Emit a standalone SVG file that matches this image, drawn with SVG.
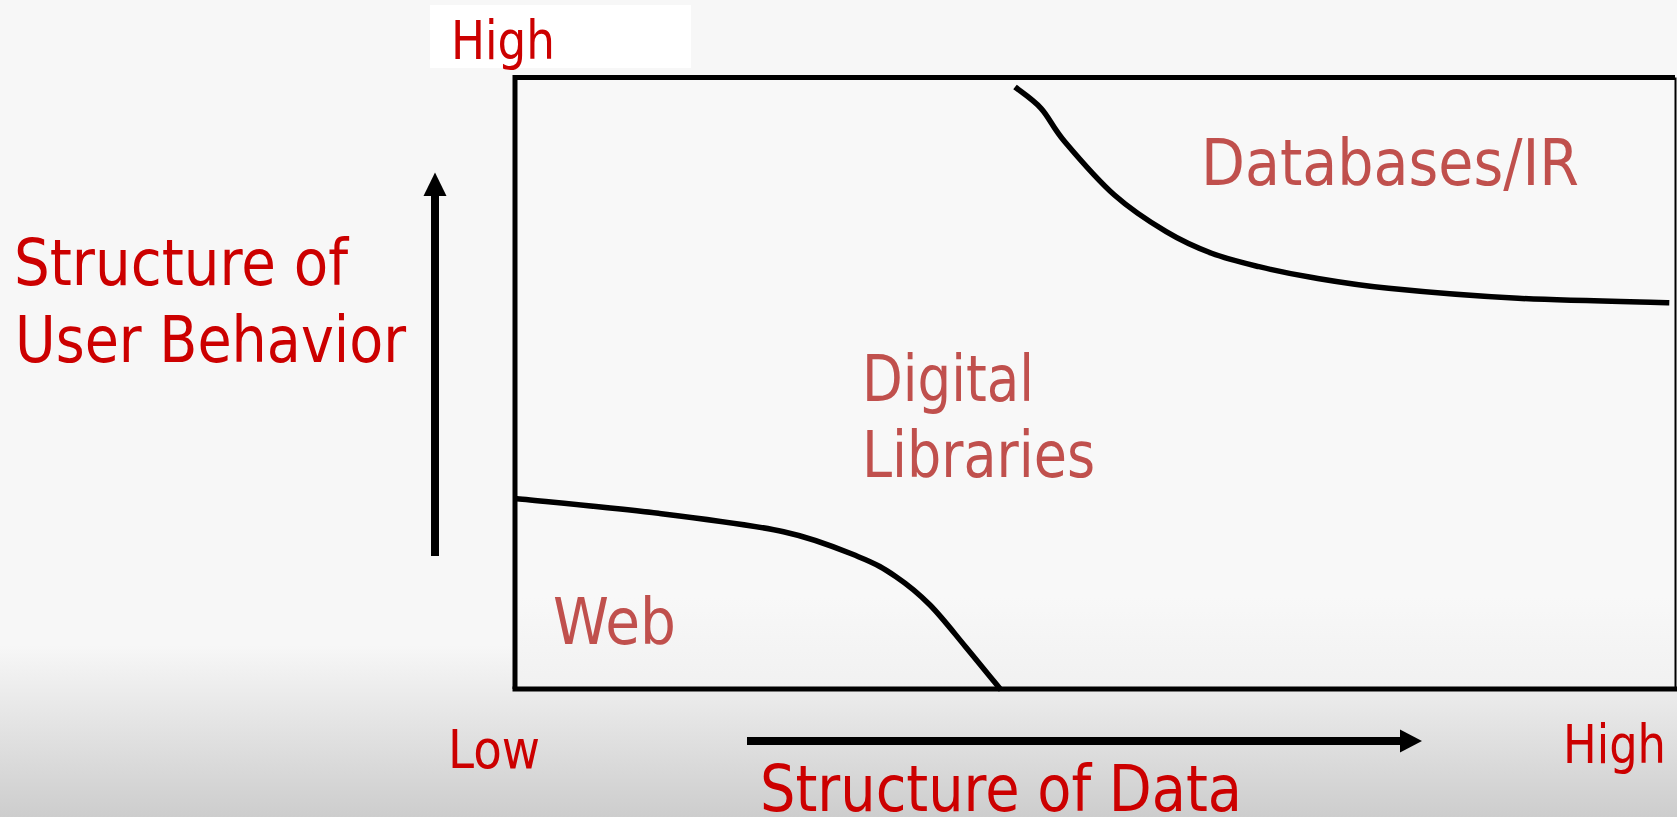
<svg xmlns="http://www.w3.org/2000/svg" width="1677" height="817" viewBox="0 0 1677 817">
  <defs>
    <linearGradient id="bg" x1="0" y1="0" x2="0" y2="1">
      <stop offset="0" stop-color="#f7f7f7"/>
      <stop offset="0.79" stop-color="#f7f7f7"/>
      <stop offset="1" stop-color="#cdcdcd"/>
    </linearGradient>
    <linearGradient id="boxfill" x1="0" y1="0" x2="0" y2="1">
      <stop offset="0" stop-color="#f8f8f8"/>
      <stop offset="0.85" stop-color="#f8f8f8"/>
      <stop offset="1" stop-color="#f1f1f1"/>
    </linearGradient>
  </defs>
  <style>
    .t { font-family: "DejaVu Sans Condensed", "DejaVu Sans", Tahoma, sans-serif; }
    .axis { fill: #cc0000; }
    .region { fill: #c0504d; }
    .big { font-size: 64px; }
    .small { font-size: 53.5px; }
    .curve { fill: none; stroke: #000; stroke-width: 5.5; stroke-linejoin: round; stroke-linecap: butt; }
    .arrowline { stroke: #000; stroke-width: 8; }
  </style>
  <rect x="0" y="0" width="1677" height="817" fill="url(#bg)"/>

  <g id="chart-box">
    <rect x="515" y="77.5" width="1160" height="611" fill="url(#boxfill)"/>
    <path d="M515 689 V77.5 H1675" fill="none" stroke="#000" stroke-width="5"/>
    <line x1="512.5" y1="689" x2="1677" y2="689" stroke="#000" stroke-width="5"/>
    <line x1="1675.5" y1="77.5" x2="1675.5" y2="689" stroke="#000" stroke-width="2"/>
  </g>

  <g id="connectors">
    <path id="web-boundary" class="curve" d="M515,498.5 C538.9,501 613.75,507.8 658.5,513.3 C703.25,518.8 750.2,524.5 783.5,531.7 C816.8,538.9 839.65,549.2 858.4,556.7 C877.15,564.2 884.07,568.65 896,576.7 C907.93,584.75 918.42,593.33 930,605 C941.58,616.67 953.67,632.53 965.5,646.7 C977.33,660.87 995.08,682.78 1001,690"/>
    <path id="db-boundary" class="curve" d="M1015,87 C1019.33,90.55 1032.7,99.18 1041,108.3 C1049.3,117.42 1052.57,127.25 1064.8,141.7 C1077.03,156.15 1097.5,180 1114.4,195 C1131.3,210 1150,221.98 1166.2,231.7 C1182.4,241.42 1196.13,247.47 1211.6,253.3 C1227.07,259.13 1242.45,262.7 1259,266.7 C1275.55,270.7 1289.3,273.7 1310.9,277.3 C1332.5,280.9 1354.08,284.8 1388.6,288.3 C1423.12,291.8 1471.22,295.9 1518,298.3 C1564.78,300.7 1644.08,301.97 1669.3,302.7"/>
    <g id="y-axis-arrow">
      <line class="arrowline" x1="435" y1="556" x2="435" y2="194"/>
      <polygon points="423.5,196 446.5,196 435,172.5" fill="#000"/>
    </g>
    <g id="x-axis-arrow">
      <line class="arrowline" x1="747" y1="741" x2="1402" y2="741"/>
      <polygon points="1400,729.5 1400,752.5 1422,741" fill="#000"/>
    </g>
  </g>

  <g id="label-high-top">
    <rect x="430" y="5" width="261" height="63" fill="#ffffff"/>
    <text class="t axis small" x="451" y="58.5" textLength="104" lengthAdjust="spacingAndGlyphs">High</text>
  </g>
  <g id="label-y-axis">
    <text class="t axis big" x="14" y="285" textLength="334" lengthAdjust="spacingAndGlyphs">Structure of</text>
    <text class="t axis big" x="15" y="361.5" textLength="391" lengthAdjust="spacingAndGlyphs">User Behavior</text>
  </g>
  <g id="region-databases">
    <text class="t region big" x="1201" y="184.5" textLength="378" lengthAdjust="spacingAndGlyphs">Databases/IR</text>
  </g>
  <g id="region-digital-libraries">
    <text class="t region big" x="862" y="400.7" textLength="172" lengthAdjust="spacingAndGlyphs">Digital</text>
    <text class="t region big" x="862" y="477.3" textLength="233" lengthAdjust="spacingAndGlyphs">Libraries</text>
  </g>
  <g id="region-web">
    <text class="t region big" x="553" y="644" textLength="123" lengthAdjust="spacingAndGlyphs">Web</text>
  </g>
  <g id="label-low">
    <text class="t axis small" x="448" y="768" textLength="92" lengthAdjust="spacingAndGlyphs">Low</text>
  </g>
  <g id="label-high-bottom">
    <text class="t axis small" x="1563" y="762.5" textLength="103" lengthAdjust="spacingAndGlyphs">High</text>
  </g>
  <g id="label-x-axis">
    <text class="t axis big" x="760" y="811" textLength="482" lengthAdjust="spacingAndGlyphs">Structure of Data</text>
  </g>
</svg>
